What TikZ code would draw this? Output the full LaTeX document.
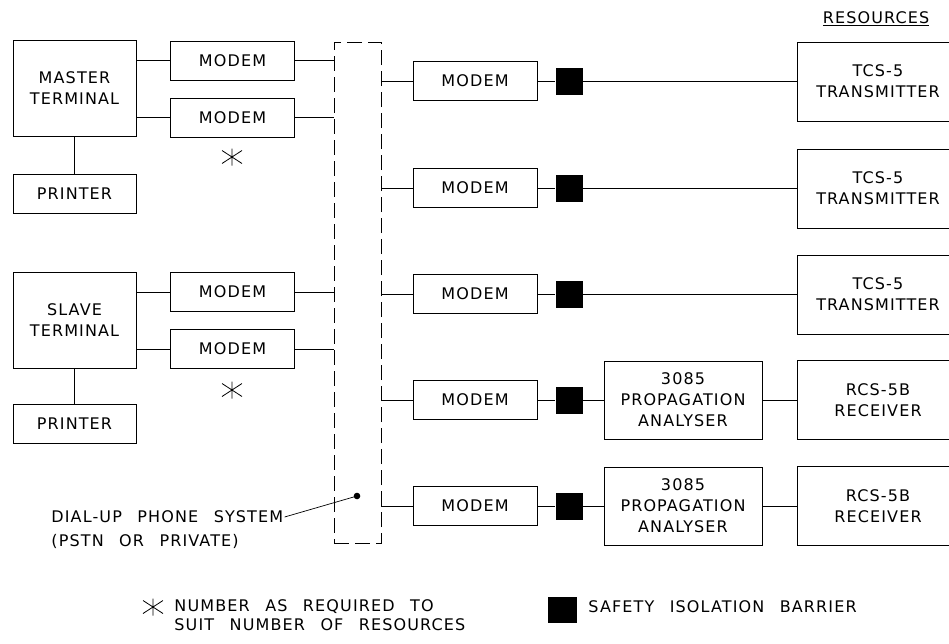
\documentclass[tikz,border=0pt]{standalone}
\usepackage{fontspec}
\setmainfont[LetterSpace=7,WordSpace=2.5]{DejaVu Sans}
\usetikzlibrary{positioning}

\tikzset{
  numstar/.pic={
    \draw[line width=0.8pt] (0,-8.5) -- (0,8.5) (-10,-6.5) -- (10,6.5) (-10,6.5) -- (10,-6.5);
  }
}

\begin{document}
\begin{tikzpicture}[
  x=1pt, y=-1pt,
  font=\fontsize{16}{21}\selectfont,
  line width=0.9pt,
  unit/.style={draw, inner sep=0pt, align=center, minimum width=#1},
  termbox/.style={unit=123pt, minimum height=96pt},
  modembox/.style={unit=124pt, minimum height=39pt},
  barrier/.style={fill=black, inner sep=0pt, minimum size=27pt},
  resbox/.style={unit=162pt, minimum height=79pt},
  anbox/.style={unit=158pt, minimum height=78pt},
  note/.style={inner sep=1pt, align=left}
]
  \useasboundingbox (0,0) rectangle (949,643);

  % master side
  \node[termbox] (master) at (74.5,88.5) {MASTER\\TERMINAL};
  \node[unit=123pt, minimum height=39pt] (prn1) at (74.5,193.5) {PRINTER};
  \node[modembox] (mm1) at (232.5,60.5) {MODEM};
  \node[modembox] (mm2) at (232.5,117.5) {MODEM};
  \pic at (232,157) {numstar};

  % slave side
  \node[termbox] (slave) at (74.5,320.5) {SLAVE\\TERMINAL};
  \node[unit=123pt, minimum height=39pt] (prn2) at (74.5,423.5) {PRINTER};
  \node[modembox] (mm3) at (232.5,292) {MODEM};
  \node[modembox] (mm4) at (232.5,349) {MODEM};
  \pic at (232,390) {numstar};

  % phone system
  \node[draw, dash pattern=on 15pt off 6pt, minimum width=47pt, minimum height=501pt, inner sep=0pt] (pstn) at (357.5,292.5) {};
  \coordinate (tap) at (357,496);
  \fill (tap) circle (3.3);
  \node[note, anchor=west] (dial) at (50,517) {DIAL-UP PHONE SYSTEM};
  \node[note, anchor=west] (dialnote) at (50,541) {(PSTN OR PRIVATE)};
  \draw[line width=0.7pt] (dial.east) -- (tap);

  \draw (master.south) -- (prn1.north);
  \draw (slave.south) -- (prn2.north);
  \draw (mm1.west -| master.east) -- (mm1.west);
  \draw (mm2.west -| master.east) -- (mm2.west);
  \draw (mm3.west -| slave.east) -- (mm3.west);
  \draw (mm4.west -| slave.east) -- (mm4.west);
  \draw (mm1.east) -- (mm1.east -| pstn.west);
  \draw (mm2.east) -- (mm2.east -| pstn.west);
  \draw (mm3.east) -- (mm3.east -| pstn.west);
  \draw (mm4.east) -- (mm4.east -| pstn.west);

  % resources
  \node at (876,19) {\underline{RESOURCES}};

  \node[modembox] (rm1) at (475,81) {MODEM};
  \node[barrier] (bar1) at (569,81) {};
  \node[resbox] (tx1) at (878,81.5) {TCS-5\\TRANSMITTER};

  \node[modembox] (rm2) at (475,188) {MODEM};
  \node[barrier] (bar2) at (569,188) {};
  \node[resbox] (tx2) at (878,188.5) {TCS-5\\TRANSMITTER};

  \node[modembox] (rm3) at (475,294) {MODEM};
  \node[barrier] (bar3) at (569,294) {};
  \node[resbox] (tx3) at (878,294.5) {TCS-5\\TRANSMITTER};

  \node[modembox] (rm4) at (475,400) {MODEM};
  \node[barrier] (bar4) at (569,400) {};
  \node[anbox] (an4) at (683,400) {3085\\PROPAGATION\\ANALYSER};
  \node[resbox] (rx4) at (878,400) {RCS-5B\\RECEIVER};

  \node[modembox] (rm5) at (475,506) {MODEM};
  \node[barrier] (bar5) at (569,506) {};
  \node[anbox] (an5) at (683,506) {3085\\PROPAGATION\\ANALYSER};
  \node[resbox] (rx5) at (878,506) {RCS-5B\\RECEIVER};

  \draw (pstn.east |- rm1.west) -- (rm1.west);
  \draw (pstn.east |- rm2.west) -- (rm2.west);
  \draw (pstn.east |- rm3.west) -- (rm3.west);
  \draw (pstn.east |- rm4.west) -- (rm4.west);
  \draw (pstn.east |- rm5.west) -- (rm5.west);
  \draw (rm1) -- (bar1);
  \draw (rm2) -- (bar2);
  \draw (rm3) -- (bar3);
  \draw (rm4) -- (bar4);
  \draw (rm5) -- (bar5);
  \draw (bar1) -- (tx1.west |- bar1);
  \draw (bar2) -- (tx2.west |- bar2);
  \draw (bar3) -- (tx3.west |- bar3);
  \draw (bar4) -- (an4);
  \draw (bar5) -- (an5);
  \draw (an4) -- (rx4);
  \draw (an5) -- (rx5);

  % legend
  \pic at (153,607) {numstar};
  \node[note, anchor=west, font=\fontsize{16}{19}\selectfont] (starkey) at (173,615.5) {NUMBER AS REQUIRED TO\\SUIT NUMBER OF RESOURCES};
  \node[barrier, minimum width=29pt, minimum height=26pt] (barkey) at (562,610) {};
  \node[note, anchor=west] (barnote) at (587,607) {SAFETY ISOLATION BARRIER};
\end{tikzpicture}
\end{document}
